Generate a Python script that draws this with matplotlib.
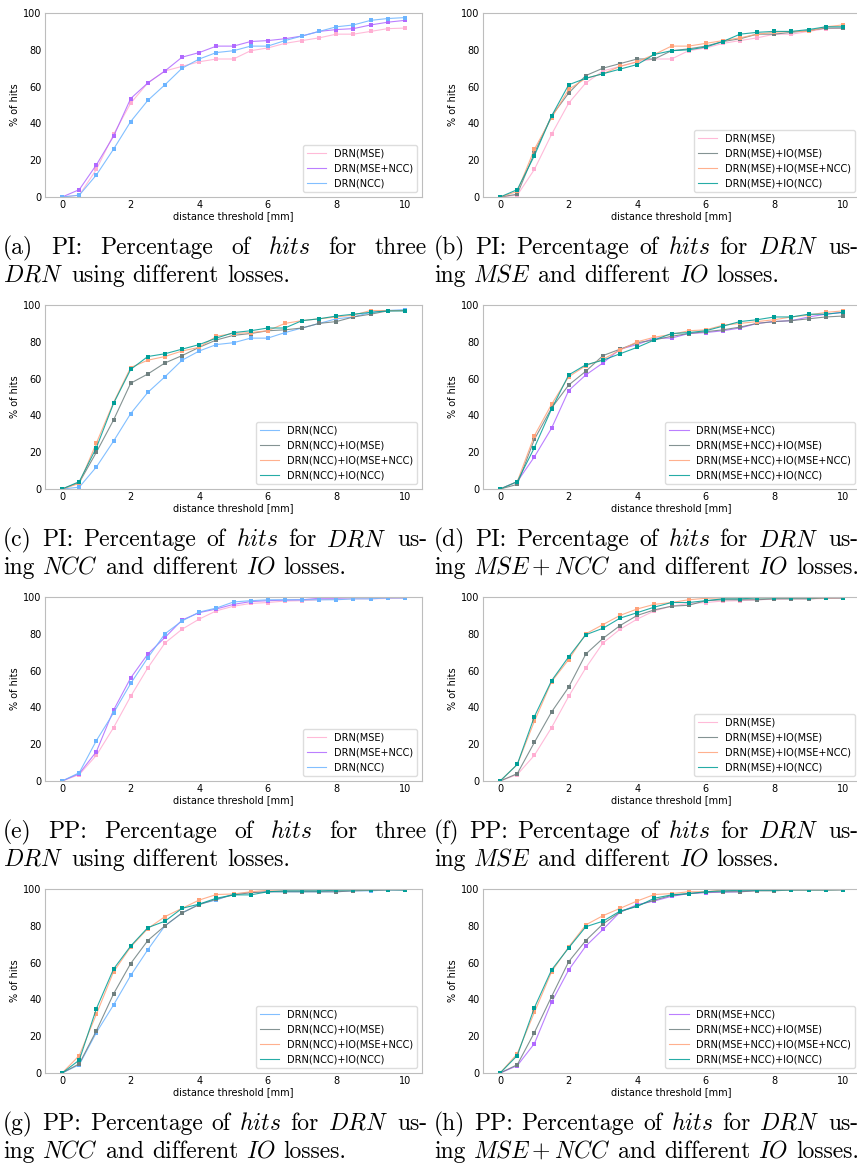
import matplotlib
matplotlib.use("Agg")
import matplotlib.pyplot as plt
import numpy as np

plt.rcParams['mathtext.fontset'] = 'cm'

W, H = 857, 1166

# distance thresholds [mm]
thresholds = np.arange(0, 10.5, 0.5)

# ---------------- PI ----------------
pi_drn_mse = [0, 1, 15, 34, 51, 62, 68.5, 71, 73.5, 75, 75, 79.5, 81, 83.5, 85, 86.5, 88.5, 88.5, 90, 91.5, 91.8]
pi_drn_msencc = [0, 4, 17.5, 33, 53.5, 62, 68.5, 76, 78.5, 82, 82, 84.5, 85, 86, 87.5, 90, 91, 91.5, 93.5, 95, 96]
pi_drn_ncc = [0, 1, 12, 26, 41, 52.5, 61, 70, 75, 78.5, 79.5, 82, 82, 85, 87.5, 90, 92.5, 93.5, 96, 97, 97.5]

pi_mse_io_mse = [0, 1.5, 24, 44, 56.5, 66, 70, 72.5, 75, 75, 79.5, 80.5, 82, 84.5, 86, 88.5, 88.5, 89.5, 90.5, 91.8, 91.8]
pi_mse_io_msencc = [0, 3, 26, 43, 58.5, 64.5, 67, 71, 73.5, 77.5, 82, 82, 83.5, 85, 86.5, 88.5, 89.5, 90, 90, 92.5, 93.5]
pi_mse_io_ncc = [0, 4, 22.5, 44, 61, 64.5, 67, 69.5, 72, 77.5, 79.5, 80, 81.5, 84.5, 88.5, 89.5, 90, 90, 91, 92.5, 92.5]

pi_ncc_io_mse = [0, 3.5, 20, 37.5, 57.5, 62.5, 68.5, 72.5, 77, 81, 83.5, 84.5, 86, 86.5, 87.5, 90, 91, 93.5, 95, 96.8, 97]
pi_ncc_io_msencc = [0, 3, 25, 47, 66, 70, 72, 75, 77, 83, 84.5, 85, 86, 90, 91.5, 92.5, 93.5, 94.5, 97, 97, 97]
pi_ncc_io_ncc = [0, 4, 22.5, 46.5, 65, 72, 73.5, 76, 78.5, 82, 85, 86, 87.5, 87.5, 91.5, 92.5, 94, 95, 96, 96.8, 96.8]

pi_msencc_io_mse = [0, 2.5, 27, 44, 56.5, 64, 72.5, 76, 79.5, 81, 83, 84.5, 85.5, 86.5, 88, 90, 91, 91.5, 92.5, 93.5, 94]
pi_msencc_io_msencc = [0, 4, 29, 46, 61, 67, 70.5, 75.5, 80, 82.5, 84, 86, 86.5, 89, 90, 91, 92, 93.5, 94.5, 96, 96.8]
pi_msencc_io_ncc = [0, 4, 22.5, 43.5, 62, 67.5, 70, 73.5, 77, 81, 84.5, 85, 86, 88.5, 91, 92, 93.5, 93.5, 95, 95, 96]

# ---------------- PP ----------------
pp_drn_mse = [0, 3.5, 14, 29, 46, 61.5, 75, 82.5, 88, 92.5, 95, 96.5, 97, 97.8, 98, 98.5, 98.8, 99, 99, 99.2, 99.3]
pp_drn_msencc = [0, 4, 16, 38.5, 56, 69, 78, 87.5, 91.5, 93.5, 96, 97.5, 98, 98.3, 98.5, 99.3, 99.3, 99.7, 99.7, 99.7, 99.7]
pp_drn_ncc = [0, 4.5, 22, 37, 53, 67, 80, 87, 91.8, 94, 97.3, 98, 98.5, 98.5, 98.5, 98.5, 98.5, 99, 99, 99.5, 99.5]

pp_mse_io_mse = [0, 4, 21, 37.5, 51, 69, 77.5, 84.5, 90, 93, 95, 95.5, 98, 98.5, 98.5, 98.5, 99, 99, 99, 99.5, 99.5]
pp_mse_io_msencc = [0, 9, 32.5, 54, 66, 80, 85, 90, 93.5, 96, 97, 98.5, 99.3, 99.5, 99.5, 99.5, 99.5, 99.5, 99.5, 99.5, 99.7]
pp_mse_io_ncc = [0, 9, 35, 54.5, 67.5, 79.5, 83, 88.5, 91.5, 94.5, 97, 97, 98, 99, 99, 99.5, 99.5, 99.5, 99.5, 99.7, 99.7]

pp_ncc_io_mse = [0, 5, 23, 43, 59.5, 72, 80, 87, 91.5, 94.5, 96.8, 98, 98.5, 98.5, 98.5, 98.5, 98.5, 99, 99.3, 99.5, 99.5]
pp_ncc_io_msencc = [0, 9.5, 32, 55, 68.5, 78.5, 85, 89.5, 94, 97, 97.3, 98.5, 99.3, 99.5, 99.5, 99.5, 99.5, 99.5, 99.5, 99.7, 99.7]
pp_ncc_io_ncc = [0, 7, 35, 56.5, 69, 79, 82.5, 89.5, 91.8, 95, 96.8, 96.8, 98.5, 99, 99, 99, 99.3, 99.5, 99.5, 99.7, 99.5]

pp_msencc_io_mse = [0, 4.5, 22, 41.5, 60.5, 72, 81, 87.5, 91, 94, 96.5, 97.5, 98.3, 98.5, 98.5, 99, 99, 99.5, 99.5, 99.5, 99.5]
pp_msencc_io_msencc = [0, 10.5, 33, 55, 68.5, 80.5, 85.5, 89.5, 93.5, 97, 97.5, 98.5, 98.5, 99.5, 99.5, 99.5, 99.5, 99.5, 99.5, 99.5, 99.7]
pp_msencc_io_ncc = [0, 9.5, 35.5, 56, 68, 79.5, 82.5, 88, 90.5, 95, 96.8, 97.5, 98.5, 99, 99.3, 99.3, 99.3, 99.5, 99.5, 99.5, 99.7]

# colours
c_mse = '#ffaed2'
c_msencc = '#b069ff'
c_ncc = '#6cb4ff'
c_io_mse = '#6f8080'
c_io_msencc = '#ffa27a'
c_io_ncc = '#009e97'

panels = [
    # (column, row, series, caption lines)
    (0, 0, [('DRN(MSE)', pi_drn_mse, c_mse),
            ('DRN(MSE+NCC)', pi_drn_msencc, c_msencc),
            ('DRN(NCC)', pi_drn_ncc, c_ncc)],
     ['(a) PI: Percentage of $\\mathit{hits}$ for three', '$DRN$ using different losses.']),
    (1, 0, [('DRN(MSE)', pi_drn_mse, c_mse),
            ('DRN(MSE)+IO(MSE)', pi_mse_io_mse, c_io_mse),
            ('DRN(MSE)+IO(MSE+NCC)', pi_mse_io_msencc, c_io_msencc),
            ('DRN(MSE)+IO(NCC)', pi_mse_io_ncc, c_io_ncc)],
     ['(b) PI: Percentage of $\\mathit{hits}$ for $DRN$ us-', 'ing $MSE$ and different $IO$ losses.']),
    (0, 1, [('DRN(NCC)', pi_drn_ncc, c_ncc),
            ('DRN(NCC)+IO(MSE)', pi_ncc_io_mse, c_io_mse),
            ('DRN(NCC)+IO(MSE+NCC)', pi_ncc_io_msencc, c_io_msencc),
            ('DRN(NCC)+IO(NCC)', pi_ncc_io_ncc, c_io_ncc)],
     ['(c) PI: Percentage of $\\mathit{hits}$ for $DRN$ us-', 'ing $NCC$ and different $IO$ losses.']),
    (1, 1, [('DRN(MSE+NCC)', pi_drn_msencc, c_msencc),
            ('DRN(MSE+NCC)+IO(MSE)', pi_msencc_io_mse, c_io_mse),
            ('DRN(MSE+NCC)+IO(MSE+NCC)', pi_msencc_io_msencc, c_io_msencc),
            ('DRN(MSE+NCC)+IO(NCC)', pi_msencc_io_ncc, c_io_ncc)],
     ['(d) PI: Percentage of $\\mathit{hits}$ for $DRN$ us-', 'ing $MSE+NCC$ and different $IO$ losses.']),
    (0, 2, [('DRN(MSE)', pp_drn_mse, c_mse),
            ('DRN(MSE+NCC)', pp_drn_msencc, c_msencc),
            ('DRN(NCC)', pp_drn_ncc, c_ncc)],
     ['(e) PP: Percentage of $\\mathit{hits}$ for three', '$DRN$ using different losses.']),
    (1, 2, [('DRN(MSE)', pp_drn_mse, c_mse),
            ('DRN(MSE)+IO(MSE)', pp_mse_io_mse, c_io_mse),
            ('DRN(MSE)+IO(MSE+NCC)', pp_mse_io_msencc, c_io_msencc),
            ('DRN(MSE)+IO(NCC)', pp_mse_io_ncc, c_io_ncc)],
     ['(f) PP: Percentage of $\\mathit{hits}$ for $DRN$ us-', 'ing $MSE$ and different $IO$ losses.']),
    (0, 3, [('DRN(NCC)', pp_drn_ncc, c_ncc),
            ('DRN(NCC)+IO(MSE)', pp_ncc_io_mse, c_io_mse),
            ('DRN(NCC)+IO(MSE+NCC)', pp_ncc_io_msencc, c_io_msencc),
            ('DRN(NCC)+IO(NCC)', pp_ncc_io_ncc, c_io_ncc)],
     ['(g) PP: Percentage of $\\mathit{hits}$ for $DRN$ us-', 'ing $NCC$ and different $IO$ losses.']),
    (1, 3, [('DRN(MSE+NCC)', pp_drn_msencc, c_msencc),
            ('DRN(MSE+NCC)+IO(MSE)', pp_msencc_io_mse, c_io_mse),
            ('DRN(MSE+NCC)+IO(MSE+NCC)', pp_msencc_io_msencc, c_io_msencc),
            ('DRN(MSE+NCC)+IO(NCC)', pp_msencc_io_ncc, c_io_ncc)],
     ['(h) PP: Percentage of $\\mathit{hits}$ for $DRN$ us-', 'ing $MSE+NCC$ and different $IO$ losses.']),
]

fig = plt.figure(figsize=(W / 100, H / 100), dpi=100)
renderer = fig.canvas.get_renderer()

ax_left = [45, 483]
ax_top = [13, 305, 597, 889]
ax_w, ax_h = 377, 184
cap_left = [3, 434]
cap_width = 424
cap_size = 17


def put_caption(x0, y0, lines):
    # first line justified, last one with natural spacing
    space = cap_size * 100 / 72 * 0.333
    for k, line in enumerate(lines):
        y = 1 - (y0 + k * 28) / H
        words = line.split(' ')
        texts = [fig.text(0, y, w, family='cmr10', fontsize=cap_size, va='baseline')
                 for w in words]
        widths = [t.get_window_extent(renderer).width for t in texts]
        if k == 0:
            gap = (cap_width - sum(widths)) / (len(words) - 1)
        else:
            gap = space
        x = x0
        for t, w in zip(texts, widths):
            t.set_x(x / W)
            x += w + gap


for col, row, series, cap in panels:
    left, top = ax_left[col], ax_top[row]
    ax = fig.add_axes([left / W, 1 - (top + ax_h) / H, ax_w / W, ax_h / H])
    for label, vals, color in series:
        ax.plot(thresholds, vals, color=color, lw=0.8, alpha=0.85, label=label)
        ax.plot(thresholds, vals, ls='none', marker='s', markersize=2.4,
                markeredgewidth=0, color=color)
    ax.set_xlim(-0.5, 10.5)
    ax.set_ylim(0, 100)
    ax.set_xticks([0, 2, 4, 6, 8, 10])
    ax.set_yticks([0, 20, 40, 60, 80, 100])
    ax.tick_params(length=0, labelsize=7, pad=2.5)
    for s in ax.spines.values():
        s.set_color('#bdbdbd')
        s.set_linewidth(0.8)
    ax.set_xlabel('distance threshold [mm]', fontsize=7, labelpad=0.5)
    ax.set_ylabel('% of hits', fontsize=7, labelpad=2)
    ax.legend(loc='lower right', fontsize=7, framealpha=1, edgecolor='#dddddd',
              fancybox=True)
    put_caption(cap_left[col], top + ax_h + 57, cap)

fig.savefig('out.png', dpi=100)
